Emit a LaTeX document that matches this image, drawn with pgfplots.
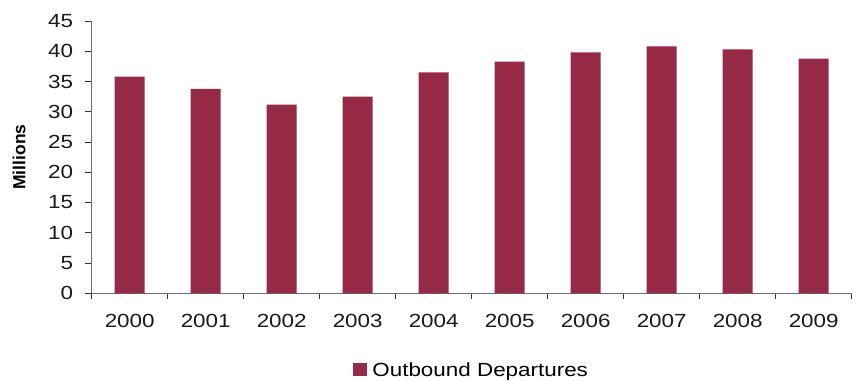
\documentclass[border=0pt]{standalone}
\usepackage{fontspec}
\setmainfont{Liberation Sans}[FakeStretch=1.18]
\newfontfamily\plainfont{Liberation Sans}
\usepackage{pgfplots}
\pgfplotsset{compat=1.18}
\definecolor{barred}{RGB}{150,41,70}
\definecolor{axisgray}{RGB}{110,110,110}
\begin{document}
\begin{tikzpicture}
\useasboundingbox (-91.7pt,-86.7pt) rectangle (764.3pt,293.3pt);
\begin{axis}[
  at={(0pt,0pt)}, anchor=south west,
  scale only axis, width=760pt, height=272.3pt,
  xmin=-0.5, xmax=9.5, ymin=0, ymax=45,
  axis x line=bottom, axis y line=left,
  axis line style={-, draw=axisgray, line width=0.8pt},
  /pgf/number format/assume math mode=true,
  tick label style={font=\fontsize{19}{22}\selectfont, text=black!90},
  ytick={0,5,...,45},
  xtick={0,...,9},
  xticklabels={2000,2001,2002,2003,2004,2005,2006,2007,2008,2009},
  major x tick style={draw=none},
  minor xtick={-0.5,0.5,...,9.5},
  minor tick length=6pt,
  minor x tick style={draw=black!80, line width=0.8pt},
  tick align=outside, major tick length=7pt,
  ytick style={draw=black!80, line width=0.8pt},
  yticklabel style={xshift=-8pt},
  xticklabel style={yshift=-10pt},
  ylabel={\plainfont\bfseries\fontsize{17.5}{20}\selectfont Millions},
  every axis y label/.style={at={(axis description cs:0,0.5)}, xshift=-72.7pt, rotate=90, anchor=center},
  legend style={at={(axis description cs:0.5,0)}, anchor=center, yshift=-77pt, draw=none, font=\fontsize{19}{22}\selectfont, legend cell align=left},
  legend image code/.code={\fill[barred] (0pt,-6pt) rectangle (14pt,7pt); \path (0pt,0pt) -- (17pt,0pt);},
]
\addplot[ybar, bar width=30pt, fill=barred, draw=none] coordinates {
(0,35.8) (1,33.8) (2,31.2) (3,32.5) (4,36.5) (5,38.3) (6,39.8) (7,40.8) (8,40.3) (9,38.8)
};
\addlegendentry{Outbound Departures}
\end{axis}
\end{tikzpicture}
\end{document}
